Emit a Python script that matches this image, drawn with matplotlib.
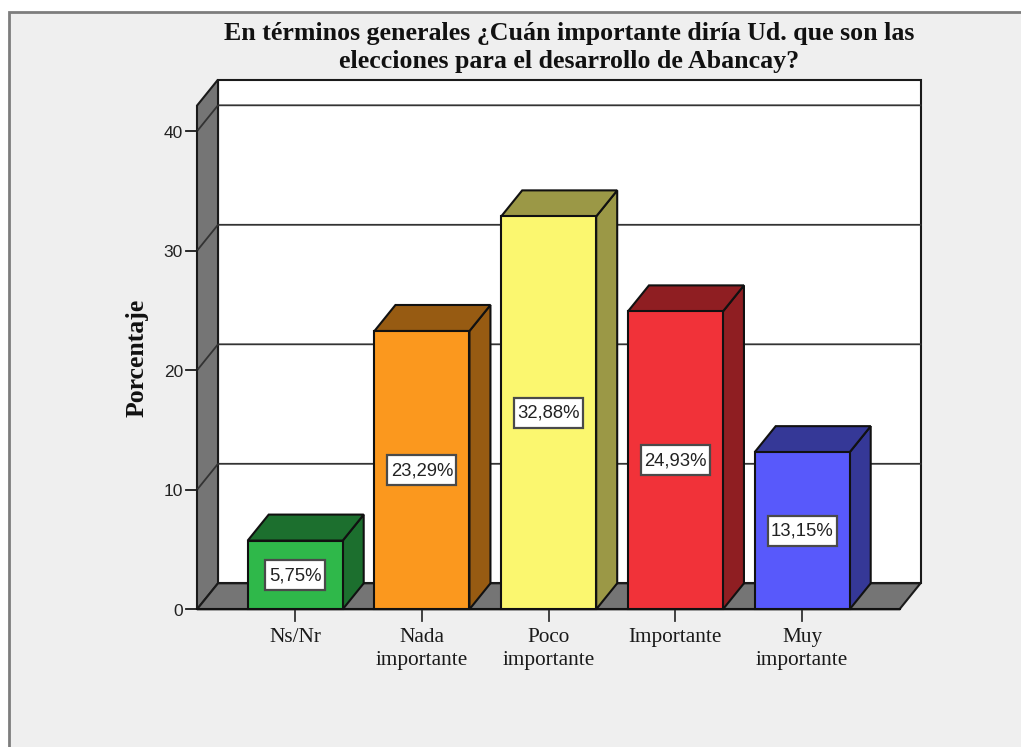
import matplotlib
matplotlib.use("Agg")
import matplotlib.pyplot as plt
from matplotlib.patches import Polygon, Rectangle

categories = ["Ns/Nr", "Nada\nimportante", "Poco\nimportante", "Importante", "Muy\nimportante"]
values = [5.75, 23.29, 32.88, 24.93, 13.15]
labels = ["5,75%", "23,29%", "32,88%", "24,93%", "13,15%"]
front_colors = ["#2fb84a", "#fb981e", "#fbf76f", "#f13239", "#5859fb"]
dark_colors = ["#1c6f2e", "#975b12", "#9b9846", "#8f1e22", "#353897"]
y_ticks = [0, 10, 20, 30, 40]
title = "En términos generales ¿Cuán importante diría Ud. que son las\nelecciones para el desarrollo de Abancay?"

# pixel scale of the reference: one category = 126.75 px, one percent = 11.95 px
W, H = 1021, 747
X0, Y0 = 295.2, 609.3
SX, SY = 126.75, 11.95
DX, DY = 21 / SX, 26 / SY   # depth of the 3D look
BAR_W = 95 / SX
LEFT, RIGHT = (197 - X0) / SX, (899.5 - X0) / SX
TOP = 42.15

fig = plt.figure(figsize=(W / 100, H / 100), dpi=100, facecolor="white")
ax = fig.add_axes([0, 0, 1, 1])
ax.set_xlim(-X0 / SX, (W - X0) / SX)
ax.set_ylim((Y0 - H) / SY, Y0 / SY)
ax.axis("off")

# panel behind the chart
ax.add_patch(Rectangle(((9 - X0) / SX, (Y0 - H - 5) / SY), (W + 10) / SX, (H - 6.5) / SY,
                       fc="#efefef", ec="#7d7d7d", lw=2, zorder=0))

lw = 1.5
# back wall
ax.add_patch(Rectangle((LEFT + DX, DY), RIGHT - LEFT, TOP, fc="white", ec="#1a1a1a", lw=lw, zorder=1))
# left wall and floor
ax.add_patch(Polygon([(LEFT, 0), (LEFT + DX, DY), (LEFT + DX, TOP + DY), (LEFT, TOP)],
                     fc="#757575", ec="#1a1a1a", lw=lw, zorder=1.2))
ax.add_patch(Polygon([(LEFT, 0), (RIGHT, 0), (RIGHT + DX, DY), (LEFT + DX, DY)],
                     fc="#757575", ec="#1a1a1a", lw=lw, zorder=1.2))

# gridlines on walls
for t in y_ticks[1:]:
    ax.plot([LEFT, LEFT + DX, RIGHT + DX], [t, t + DY, t + DY], color="#333333", lw=1.3, zorder=1.5)
for t in y_ticks:
    ax.plot([LEFT - 11 / SX, LEFT], [t, t], color="#1a1a1a", lw=1.3, zorder=1.5)
    ax.text(LEFT - 14 / SX, t - 0.15, str(t), ha="right", va="center", fontsize=12.5,
            family="Liberation Sans", color="#222222")

# bars
for i, v in enumerate(values):
    x0, x1 = i - BAR_W / 2, i + BAR_W / 2
    ax.add_patch(Polygon([(x1, 0), (x1 + DX, DY), (x1 + DX, v + DY), (x1, v)],
                         fc=dark_colors[i], ec="#111111", lw=lw, zorder=3))
    ax.add_patch(Polygon([(x0, v), (x1, v), (x1 + DX, v + DY), (x0 + DX, v + DY)],
                         fc=dark_colors[i], ec="#111111", lw=lw, zorder=3))
    ax.bar(i, v, width=BAR_W, color=front_colors[i], edgecolor="#111111", linewidth=lw, zorder=4)
    box_w = (60 if len(labels[i]) == 5 else 69) / SX
    box_h = 30 / SY
    ax.add_patch(Rectangle((i - box_w / 2, v / 2 - box_h / 2), box_w, box_h, fc="white",
                           ec="#4a4a4a", lw=1.6, zorder=5))
    ax.text(i, v / 2 - 0.05, labels[i], ha="center", va="center", fontsize=13.3, family="Liberation Sans",
            color="#222222", zorder=6)
    ax.plot([i, i], [0, -12 / SY], color="#333333", lw=1.3, zorder=2)
    ax.text(i, -19 / SY, categories[i], ha="center", va="top", fontsize=15.3, family="Liberation Serif",
            color="#1a1a1a", linespacing=1.3)

ax.plot([LEFT, RIGHT], [0, 0], color="#111111", lw=lw, zorder=2)

ax.text((569.5 - X0) / SX, (Y0 - 47.5) / SY, title, ha="center", va="center", fontsize=18.6,
        family="Liberation Serif", fontweight="bold", color="#111111", linespacing=1.27)
ax.text((137 - X0) / SX, (Y0 - 358) / SY, "Porcentaje", rotation=90, ha="center", va="center",
        fontsize=18.5, family="Liberation Serif", fontweight="bold", color="#111111")

fig.savefig("out.png", dpi=100)
